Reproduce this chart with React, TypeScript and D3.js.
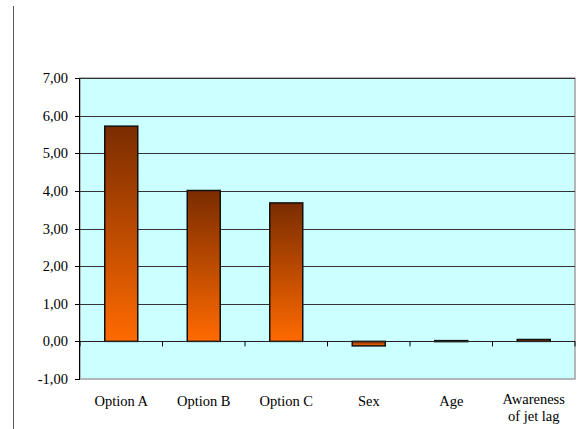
import React from "react";
import * as d3 from "d3";

const categories: string[][] = [["Option A"], ["Option B"], ["Option C"], ["Sex"], ["Age"], ["Awareness", "of jet lag"]];
const values: number[] = [5.72, 4.01, 3.68, -0.12, 0.02, 0.05];
const yTicks: number[] = [-1, 0, 1, 2, 3, 4, 5, 6, 7];

const W = 584, H = 429;
const left = 80, right = 575, top = 78, bottom = 379;

export default function App() {
  const x = d3.scaleBand<number>().domain(d3.range(categories.length)).range([left, right]).paddingInner(0).paddingOuter(0);
  const y = d3.scaleLinear().domain([-1, 7]).range([bottom, top]);
  const bw = x.bandwidth() * 0.4;
  const fmt = (v: number) => v.toFixed(2).replace(".", ",");
  const textStyle: React.CSSProperties = { fontFamily: '"Liberation Serif", "DejaVu Serif", serif', fontSize: "14.5px" };
  return (
    <svg width={W} height={H} style={{ position: "absolute", left: 0, top: 0 }}>
      <defs>
        <linearGradient id="barGrad" x1="0" y1="0" x2="0" y2="1">
          <stop offset="0" stopColor="#7a2c00" />
          <stop offset="1" stopColor="#ff6a00" />
        </linearGradient>
      </defs>
      <rect x={0} y={0} width={W} height={H} fill="#fff" />
      <line x1={13.5} x2={13.5} y1={6} y2={429} stroke="#555" strokeWidth={1} />
      <rect x={left} y={top} width={right - left} height={bottom - top} fill="#ccffff" stroke="#a0a0a0" strokeWidth={1.5} />
      {yTicks.map((t) => (
        <g key={t}>
          {t !== -1 && t !== 0 && (
            <line x1={left} x2={right} y1={Math.round(y(t)) + 0.5} y2={Math.round(y(t)) + 0.5} stroke="#333" strokeWidth={1} />
          )}
          <line x1={left - 5} x2={left} y1={Math.round(y(t)) + 0.5} y2={Math.round(y(t)) + 0.5} stroke="#000" strokeWidth={1} />
          <text x={left - 12} y={y(t) + 5} textAnchor="end" style={textStyle} fill="#000">
            {fmt(t)}
          </text>
        </g>
      ))}
      <line x1={left - 0.5} x2={left - 0.5} y1={top} y2={bottom} stroke="#000" strokeWidth={1} />
      {values.map((v, i) => {
        const cx = (x(i) as number) + x.bandwidth() / 2;
        const y0 = y(0), y1 = y(v);
        const yy = Math.min(y0, y1);
        const hh = Math.max(Math.abs(y0 - y1), 1);
        return (
          <rect key={i} x={cx - bw / 2} y={yy} width={bw} height={hh} fill="url(#barGrad)" stroke="#111" strokeWidth={1.5} />
        );
      })}
      <line x1={left} x2={right} y1={Math.round(y(0)) + 0.5} y2={Math.round(y(0)) + 0.5} stroke="#222" strokeWidth={1} />
      {d3.range(categories.length + 1).map((i) => {
        const xx = i < categories.length ? (x(i) as number) : right;
        return <line key={i} x1={xx} x2={xx} y1={y(0)} y2={y(0) + 5} stroke="#000" strokeWidth={1} />;
      })}
      {categories.map((lines, i) => {
        const cx = (x(i) as number) + x.bandwidth() / 2;
        const startY = lines.length > 1 ? 404 : 406;
        return (
          <text key={i} x={cx} y={startY} textAnchor="middle" style={textStyle} fill="#000">
            {lines.map((l, j) => (
              <tspan key={j} x={cx} dy={j === 0 ? 0 : 17}>{l}</tspan>
            ))}
          </text>
        );
      })}
    </svg>
  );
}
